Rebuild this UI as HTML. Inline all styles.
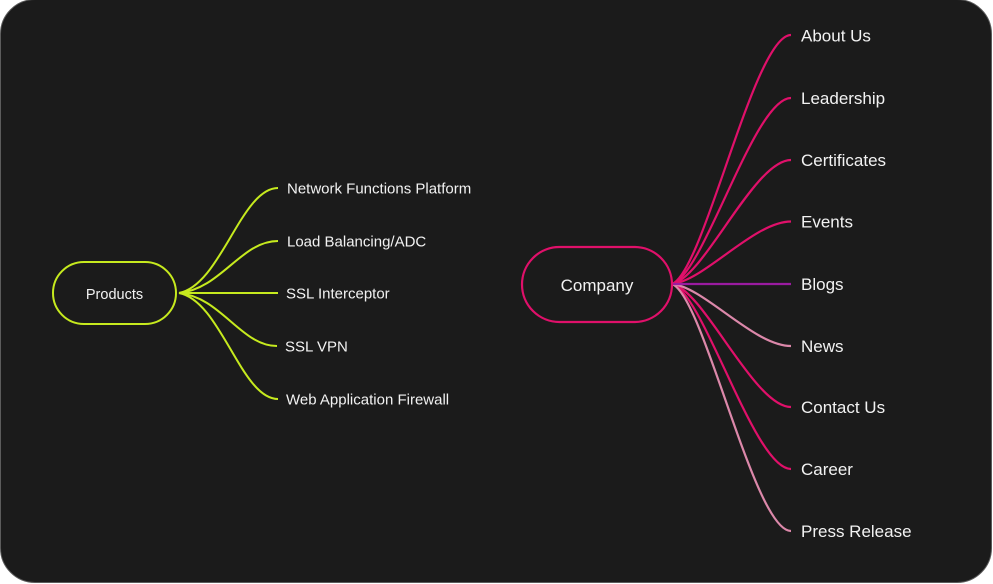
<!DOCTYPE html>
<html>
<head>
<meta charset="utf-8">
<style>
  html, body { margin:0; padding:0; background:#ffffff; }
  body { width:993px; height:584px; overflow:hidden; position:relative; }
  .card { position:absolute; left:0; top:-1px; width:990px; height:582px; background:#1b1b1b; border:1px solid #5c5c5c; border-radius:35px; }
  svg { position:absolute; left:0; top:0; }
  text { font-family:"Liberation Sans", sans-serif; fill:#f2f2f2; }
</style>
</head>
<body>
<div class="card"></div>
<svg width="993" height="584" viewBox="0 0 993 584" xmlns="http://www.w3.org/2000/svg">
  <!-- Products branches -->
  <g fill="none" stroke="#c6ea1e" stroke-width="2">
    <path d="M179,293 C221,285 241,188 278,188"/>
    <path d="M179,293 C221,289 241,241 278,241"/>
    <path d="M179,293 L278,293"/>
    <path d="M179,293 C221,297 241,346 277,346"/>
    <path d="M179,293 C221,301 241,399 278,399"/>
  </g>
  <rect x="53" y="262" width="123" height="62" rx="31" ry="31" fill="#1b1b1b" stroke="#c6ea1e" stroke-width="2"/>
  <text x="114.5" y="299" font-size="14.5" text-anchor="middle">Products</text>
  <g font-size="15">
    <text x="287" y="193.3">Network Functions Platform</text>
    <text x="287" y="246.3">Load Balancing/ADC</text>
    <text x="286" y="298.3">SSL Interceptor</text>
    <text x="285" y="351.3">SSL VPN</text>
    <text x="286" y="404.3">Web Application Firewall</text>
  </g>

  <!-- Company branches -->
  <g fill="none" stroke-width="2.2">
    <path stroke="#e0106a" d="M672,284 C704,272 754,35 791,35"/>
    <path stroke="#e0106a" d="M672,284 C704,275 754,98 791,98"/>
    <path stroke="#e0106a" d="M672,284 C704,278 754,160 791,160"/>
    <path stroke="#e0106a" d="M672,284 C704,281 754,221.5 791,221.5"/>
    <path stroke="#e0106a" d="M672,284 C704,293 754,469 791,469"/>
    <path stroke="#e0106a" d="M672,284 C704,290 754,407 791,407"/>
    <path stroke="#dc88aa" d="M672,284 C704,287 754,346 791,346"/>
    <path stroke="#dc88aa" d="M672,284 C704,296 754,531 791,531"/>
    <path stroke="#9a1ba0" d="M672,284 L791,284"/>
  </g>
  <rect x="522" y="247" width="150" height="75" rx="37.5" ry="37.5" fill="#1b1b1b" stroke="#e0106a" stroke-width="2.2"/>
  <text x="597" y="291" font-size="17" text-anchor="middle">Company</text>
  <g font-size="17">
    <text x="801" y="41.5">About Us</text>
    <text x="801" y="104">Leadership</text>
    <text x="801" y="166">Certificates</text>
    <text x="801" y="227.5">Events</text>
    <text x="801" y="290">Blogs</text>
    <text x="801" y="352">News</text>
    <text x="801" y="413">Contact Us</text>
    <text x="801" y="475">Career</text>
    <text x="801" y="537">Press Release</text>
  </g>
</svg>
</body>
</html>
